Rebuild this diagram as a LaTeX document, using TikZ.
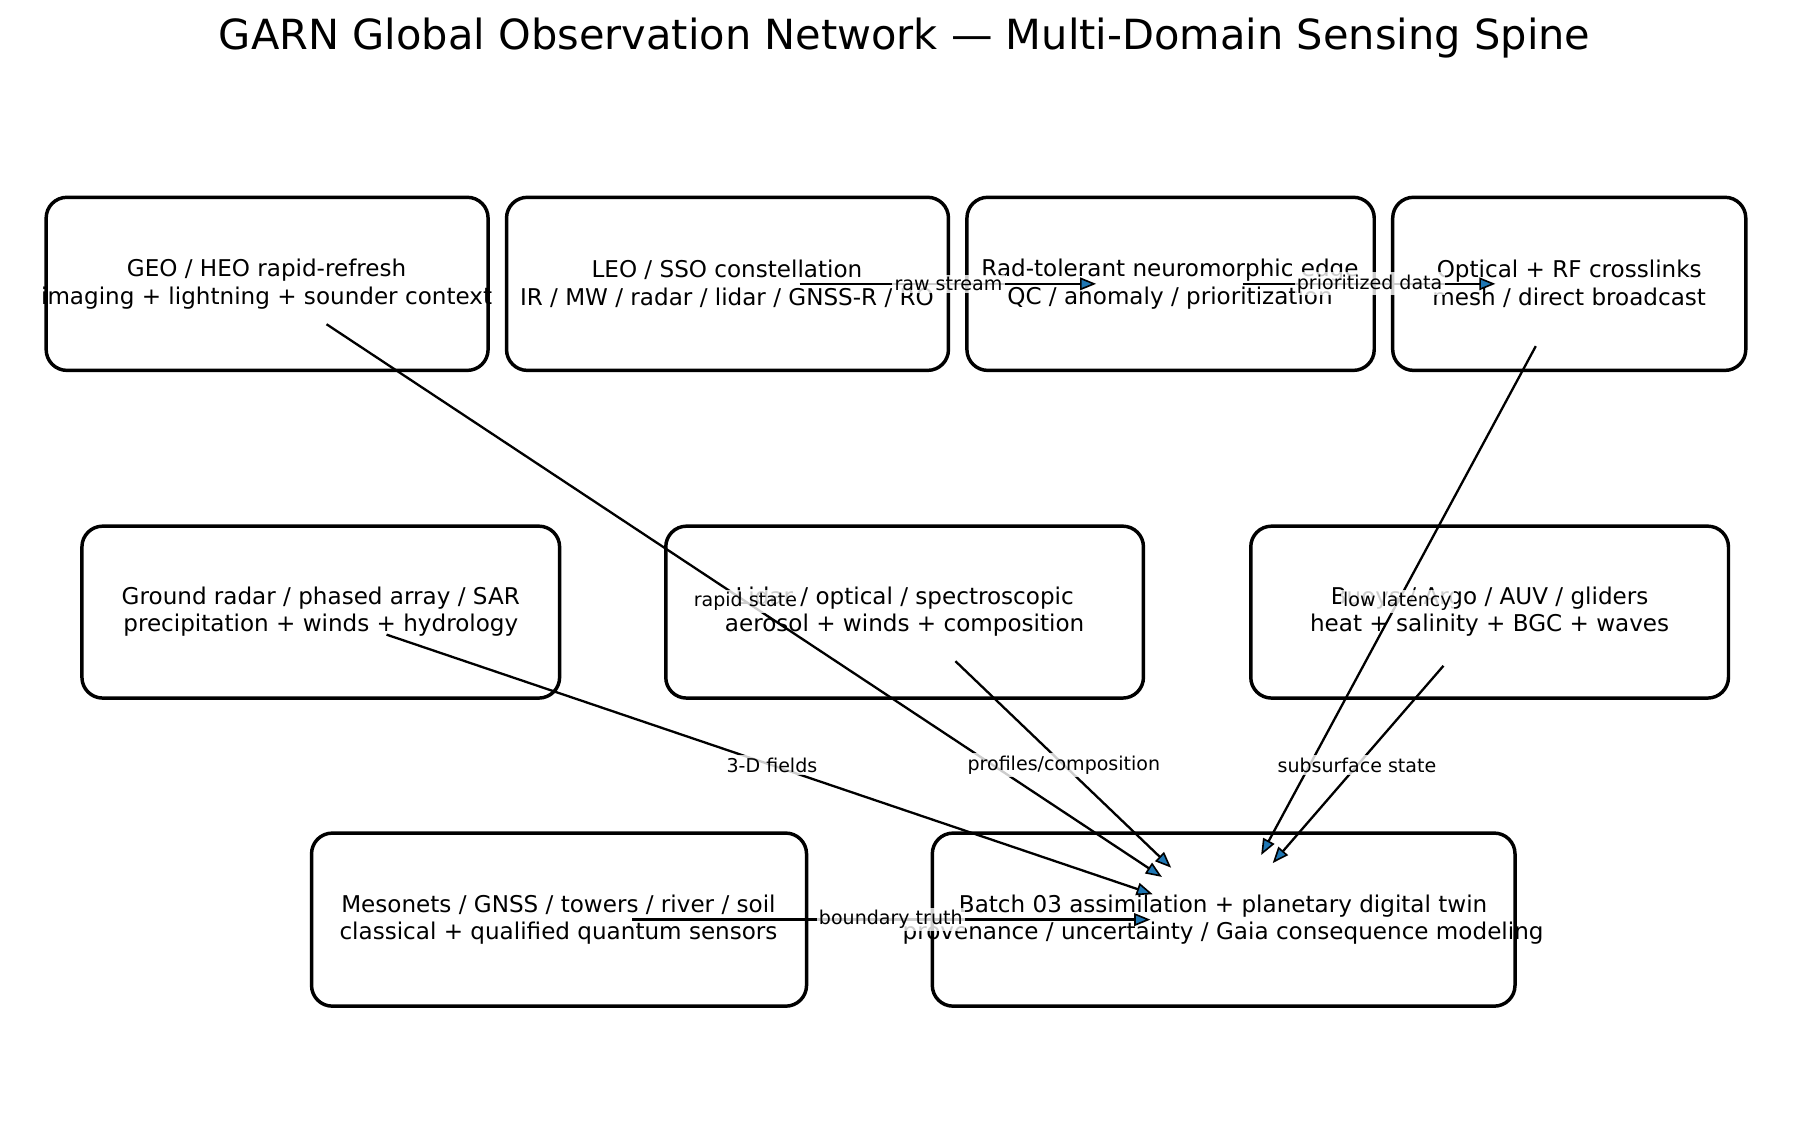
\documentclass[tikz,border=0pt]{standalone}
\usepackage{fontspec}
\setmainfont{DejaVu Sans}
\usetikzlibrary{arrows.meta}
\definecolor{tipblue}{HTML}{1F77B4}
\begin{document}
\begin{tikzpicture}[x=1pt,y=-1pt,
  frame/.style={draw,line width=3pt,rounded corners=18pt,fill=white},
  txt/.style={align=center,inner sep=0pt,font=\fontsize{20}{24}\selectfont},
  conn/.style={line width=2pt,-{Triangle[length=14pt,width=11pt,fill=tipblue,line width=1.4pt]}},
  lab/.style={fill=white,fill opacity=0.8,text opacity=1,inner sep=2pt,font=\fontsize{16.5}{18}\selectfont}]
\useasboundingbox (0,0) rectangle (1560,979);
\node[font=\fontsize{36}{40}\selectfont] (title) at (784,33) {GARN Global Observation Network — Multi-Domain Sensing Spine};
\draw[frame] (40,171) rectangle (423,321);
\draw[frame] (439,171) rectangle (822,321);
\draw[frame] (838,171) rectangle (1191,321);
\draw[frame] (1207,171) rectangle (1513,321);
\draw[frame] (71,456) rectangle (485,605);
\draw[frame] (577,456) rectangle (991,605);
\draw[frame] (1084,456) rectangle (1498,605);
\draw[frame] (270,722) rectangle (699,872);
\draw[frame] (808,722) rectangle (1313,872);
\node[txt] (geo) at (231,246) {GEO / HEO rapid-refresh\\imaging + lightning + sounder context};
\node[txt] (leo) at (630,246) {LEO / SSO constellation\\IR / MW / radar / lidar / GNSS-R / RO};
\node[txt] (edge) at (1014,246) {Rad-tolerant neuromorphic edge\\QC / anomaly / prioritization};
\node[txt] (opt) at (1360,246) {Optical + RF crosslinks\\mesh / direct broadcast};
\node[txt] (gr) at (278,530) {Ground radar / phased array / SAR\\precipitation + winds + hydrology};
\node[txt] (lid) at (784,530) {Lidar / optical / spectroscopic\\aerosol + winds + composition};
\node[txt] (buoy) at (1291,530) {Buoys / Argo / AUV / gliders\\heat + salinity + BGC + waves};
\node[txt] (meso) at (484,797) {Mesonets / GNSS / towers / river / soil\\classical + qualified quantum sensors};
\node[txt] (twin) at (1060,797) {Batch 03 assimilation + planetary digital twin\\provenance / uncertainty / Gaia consequence modeling};
\coordinate (a1) at (693,246); \coordinate (b1) at (950,246);
\coordinate (a2) at (1077,246); \coordinate (b2) at (1296,246);
\coordinate (a3) at (283,281); \coordinate (b3) at (1007,760);
\coordinate (a4) at (1331,300); \coordinate (b4) at (1093,741);
\coordinate (a5) at (335,550); \coordinate (b5) at (999,775);
\coordinate (a6) at (828,573); \coordinate (b6) at (1015,752);
\coordinate (a7) at (1251,577); \coordinate (b7) at (1103,748);
\coordinate (a8) at (548,797); \coordinate (b8) at (997,797);
\draw[conn] (a1) -- (b1);
\draw[conn] (a2) -- (b2);
\draw[conn] (a3) -- (b3);
\draw[conn] (a4) -- (b4);
\draw[conn] (a5) -- (b5);
\draw[conn] (a6) -- (b6);
\draw[conn] (a7) -- (b7);
\draw[conn] (a8) -- (b8);
\node[lab] (l1) at (822,246) {raw stream};
\node[lab] (l2) at (1187,246) {prioritized data};
\node[lab] (l3) at (646,521) {rapid state};
\node[lab] (l4) at (1211,521) {low latency};
\node[lab] (l5) at (669,663) {3-D fields};
\node[lab] (l6) at (922,663) {profiles/composition};
\node[lab] (l7) at (1176,663) {subsurface state};
\node[lab] (l8) at (772,797) {boundary truth};
\end{tikzpicture}
\end{document}
